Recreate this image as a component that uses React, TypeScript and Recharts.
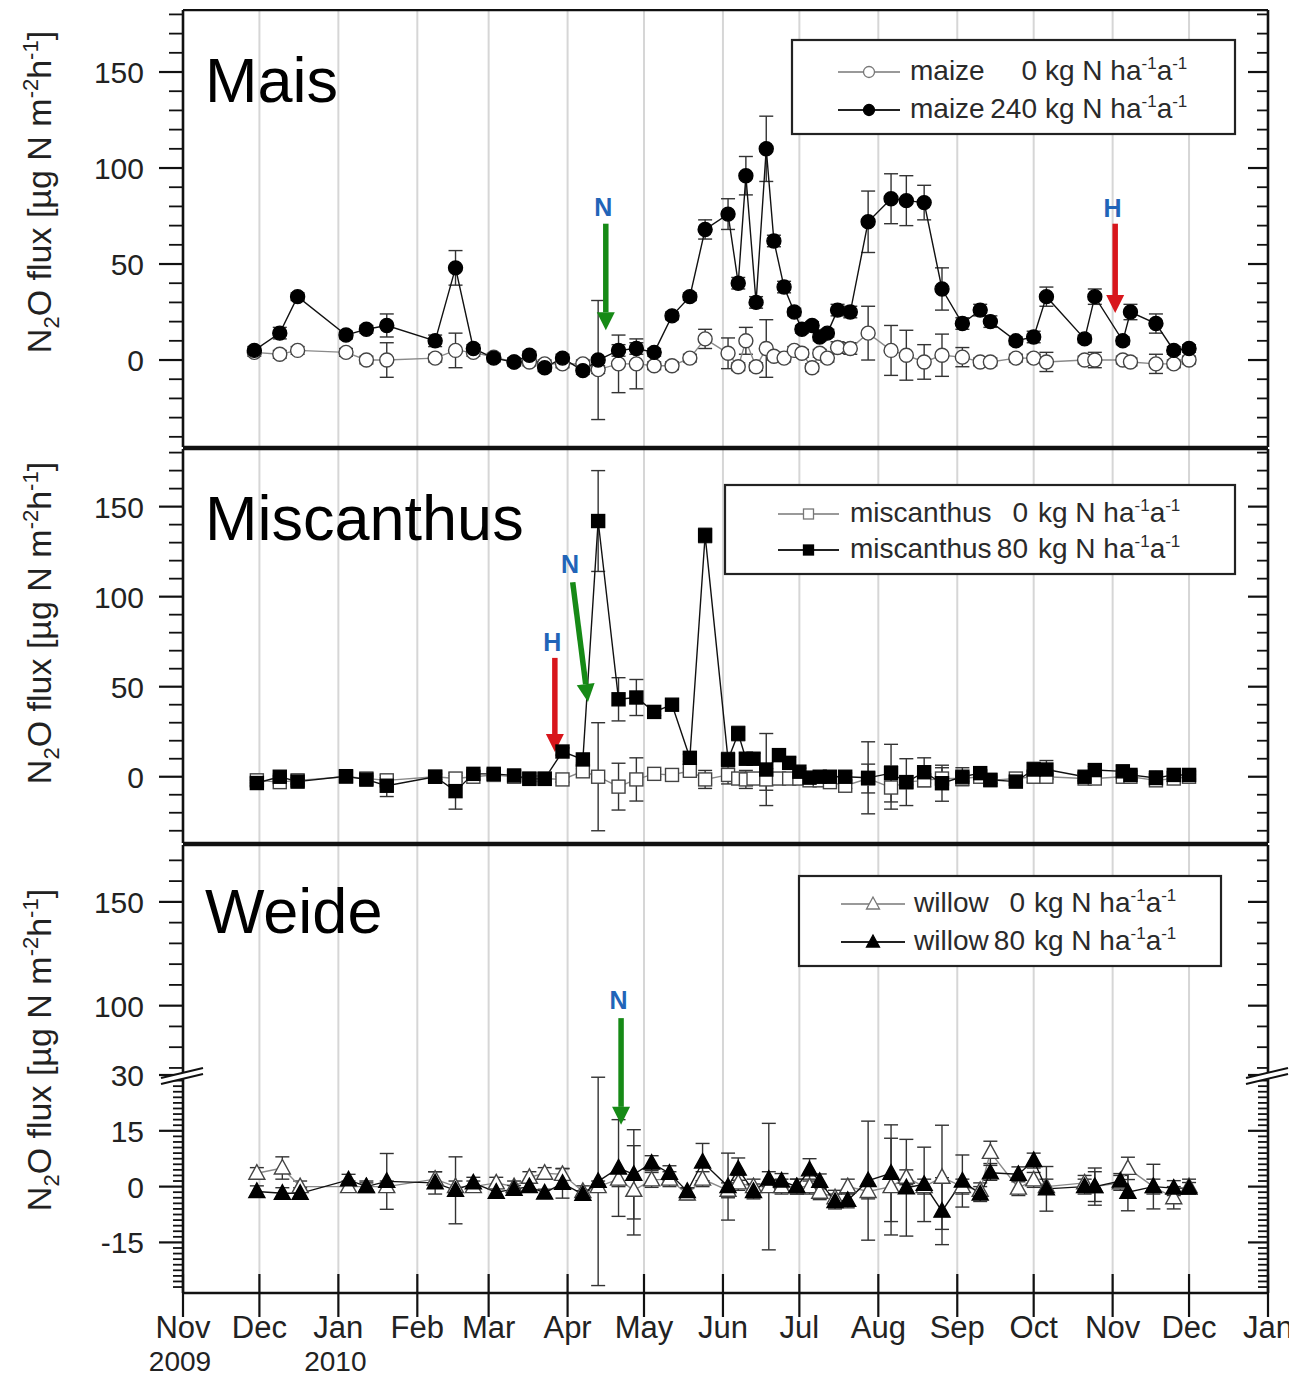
import React from "react";
import {
  ComposedChart,
  Line,
  ErrorBar,
  XAxis,
  YAxis,
  CartesianGrid,
  ReferenceLine,
  ReferenceDot,
} from "recharts";

const FONT = "'Liberation Sans', Arial, Helvetica, sans-serif";
const W = 1289;

// ---- time axis ----
const monthTicks = [
  "2009-11-01", "2009-12-01", "2010-01-01", "2010-02-01", "2010-03-01",
  "2010-04-01", "2010-05-01", "2010-06-01", "2010-07-01", "2010-08-01",
  "2010-09-01", "2010-10-01", "2010-11-01", "2010-12-01", "2011-01-01",
];
const monthLabels = ["Nov", "Dec", "Jan", "Feb", "Mar", "Apr", "May", "Jun", "Jul", "Aug", "Sep", "Oct", "Nov", "Dec", "Jan"];
const yearLabels = ["2009", "", "2010", "", "", "", "", "", "", "", "", "", "", "", ""];

// ---- maize ----
const maizeDates = [
  "2009-11-29", "2009-12-09", "2009-12-16", "2010-01-04", "2010-01-12", "2010-01-20", "2010-02-08", "2010-02-16", "2010-02-23", "2010-03-03",
  "2010-03-11", "2010-03-17", "2010-03-23", "2010-03-30", "2010-04-07", "2010-04-13", "2010-04-21", "2010-04-28", "2010-05-05", "2010-05-12",
  "2010-05-19", "2010-05-25", "2010-06-03", "2010-06-07", "2010-06-10", "2010-06-14", "2010-06-18", "2010-06-21", "2010-06-25", "2010-06-29",
  "2010-07-02", "2010-07-06", "2010-07-09", "2010-07-12", "2010-07-16", "2010-07-21", "2010-07-28", "2010-08-06", "2010-08-12", "2010-08-19",
  "2010-08-26", "2010-09-03", "2010-09-10", "2010-09-14", "2010-09-24", "2010-10-01", "2010-10-06", "2010-10-21", "2010-10-25", "2010-11-05",
  "2010-11-08", "2010-11-18", "2010-11-25", "2010-12-01",
];
const maize0 = [
  4, 3, 5, 4, 0, 0, 1, 5, 4, 1.5,
  -1, -1, -2, -2, -2, -5, -2, -2, -3, -3,
  1, 11, 3.5, -3.5, 10, -3.5, 6, 2, 1, 5,
  3.5, -4, 3.5, 1, 6.5, 6, 14, 5, 2.5, -1,
  2.5, 1.5, -1, -1, 1, 1, -1, 0, 0, 0,
  -1, -2, -2, 0,
];
const maize0Err = [
  2, 2, 2, 2, 2, 9, 2, 9, 2, 2,
  2, 2, 2, 2, 2, 2, 15, 13, 2, 2,
  2, 5, 8, 2, 7, 2, 15, 2, 2, 2,
  2, 2, 2, 2, 3, 3, 14, 13, 13, 9,
  11, 5, 2, 2, 2, 2, 5, 2, 4, 2,
  2, 5, 2, 2,
];
const maize240 = [
  5, 14, 33, 13, 16, 18, 10, 48, 6, 1,
  -1, 2.5, -4, 1, -5.5, 0, 5, 6, 4, 23,
  33, 68, 76, 40, 96, 30, 110, 62, 38, 25,
  16, 18, 12, 14, 26, 25, 72, 84, 83, 82,
  37, 19, 26, 20, 10, 12, 33, 11, 33, 10,
  25, 19, 5, 6,
];
const maize240Err = [
  2, 3, 2, 2, 2, 6, 3, 9, 2, 2,
  2, 2, 2, 2, 2, 31, 3, 3, 2, 2,
  2, 5, 8, 3, 10, 3, 17, 3, 3, 2,
  2, 2, 2, 2, 3, 3, 16, 13, 13, 9,
  11, 3, 3, 3, 2, 3, 5, 2, 4, 2,
  4, 5, 2, 2,
];

// ---- miscanthus ----
const miscDates = [
  "2009-11-30", "2009-12-09", "2009-12-16", "2010-01-04", "2010-01-12", "2010-01-20", "2010-02-08", "2010-02-16", "2010-02-23", "2010-03-03",
  "2010-03-11", "2010-03-17", "2010-03-23", "2010-03-30", "2010-04-07", "2010-04-13", "2010-04-21", "2010-04-28", "2010-05-05", "2010-05-12",
  "2010-05-19", "2010-05-25", "2010-06-03", "2010-06-07", "2010-06-10", "2010-06-13", "2010-06-18", "2010-06-23", "2010-06-27", "2010-07-01",
  "2010-07-05", "2010-07-09", "2010-07-13", "2010-07-19", "2010-07-28", "2010-08-06", "2010-08-12", "2010-08-19", "2010-08-26", "2010-09-03",
  "2010-09-10", "2010-09-14", "2010-09-24", "2010-10-01", "2010-10-06", "2010-10-21", "2010-10-25", "2010-11-05", "2010-11-08", "2010-11-18",
  "2010-11-25", "2010-12-01",
];
const misc0 = [
  -2, -3, -2, 0, -1, -2, 0, -1, 0, 1,
  0, -1, -1, -1.5, 3, 0, -5.5, -1.5, 1.6, 1,
  3.3, -1.5, 1, -1, -1.5, -1, -1.5, -1, -1, -1,
  -2, -2, -3, -5, -1, -6, -3, -2, -1, -1,
  0, -2, -1, 0, 0, -1, -1, 0, 0, -2,
  -1, 0,
];
const misc0Err = [
  1.5, 1.5, 1.5, 1.5, 1.5, 1.5, 1.5, 1.5, 1.5, 1.5,
  1.5, 1.5, 1.5, 1.5, 1.5, 30, 13, 12, 1.5, 1.5,
  1.5, 5, 5, 1.5, 5, 1.5, 6, 1.5, 1.5, 1.5,
  1.5, 1.5, 1.5, 1.5, 8, 12, 1.5, 1.5, 6, 1.5,
  1.5, 1.5, 1.5, 3, 1.5, 1.5, 1.5, 1.5, 1.5, 1.5,
  1.5, 1.5,
];
const misc80 = [
  -3.5, 0, -2.7, 0.3, -1.6, -5, 0, -8, 1.6, 1.6,
  0.7, -1.2, -1.2, 14, 9.6, 142, 43, 44, 36, 40,
  10.5, 134, 9.5, 24, 10, 10, 4, 12, 7.7, 2.8,
  -0.5, 0, 0, 0, -0.6, 2, -3, 2.5, -3.6, 0,
  2, -1.7, -2.7, 4, 4, 0, 3.7, 3, 1, -0.7,
  1, 1,
];
const misc80Err = [
  1.5, 1.5, 1.5, 1.5, 1.5, 6, 1.5, 10, 1.5, 1.5,
  1.5, 1.5, 1.5, 2, 2, 28, 12, 10, 2, 2,
  2, 4, 4, 4, 3, 3, 20, 3, 3, 2,
  2, 2, 2, 2, 20, 16, 13, 8, 10, 5,
  2, 2, 2, 4, 5, 2, 2, 3, 2, 4,
  2, 2,
];

// ---- willow ----
const willowDates = [
  "2009-11-30", "2009-12-10", "2009-12-17", "2010-01-05", "2010-01-12", "2010-01-20", "2010-02-08", "2010-02-16", "2010-02-23", "2010-03-04",
  "2010-03-11", "2010-03-17", "2010-03-23", "2010-03-30", "2010-04-07", "2010-04-13", "2010-04-21", "2010-04-27", "2010-05-04", "2010-05-11",
  "2010-05-18", "2010-05-24", "2010-06-03", "2010-06-07", "2010-06-13", "2010-06-19", "2010-06-24", "2010-06-30", "2010-07-05", "2010-07-09",
  "2010-07-15", "2010-07-20", "2010-07-28", "2010-08-06", "2010-08-12", "2010-08-19", "2010-08-26", "2010-09-03", "2010-09-10", "2010-09-14",
  "2010-09-25", "2010-10-01", "2010-10-06", "2010-10-21", "2010-10-25", "2010-11-04", "2010-11-07", "2010-11-17", "2010-11-25", "2010-12-01",
];
const willow0 = [
  3.6, 5, 0, 0, 0, 0, 2, 0, 0, 1,
  0, 2.5, 3.6, 3.3, -1.3, 0, 2, -1, 1.8, 2,
  -2, 2, -1, 1, 0, 0, 0, 0, 0, -1.5,
  -3, 0, -1.3, 0, 2.5, 0, 2.5, 0, -1, 9.2,
  -0.4, 1.8, 0, 1, 0, 1, 4.9, 0, -3, 0,
];
const willow0Err = [
  1.5, 3, 1.5, 1.5, 1.5, 1.5, 2, 1.5, 1.5, 1.5,
  1.5, 1.5, 1.5, 1.5, 1.5, 1.5, 2, 12, 2, 2,
  1.5, 2, 2, 2, 2, 17, 2, 2, 2, 2,
  2, 2, 2, 13, 2, 2, 14, 2, 2, 3,
  2, 2, 2, 2, 4, 2, 3, 2, 3, 2,
];
const willow80 = [
  -1.3, -1.8, -1.8, 1.8, 0, 1.4, 1, -1, 1, -1.5,
  -0.7, 0, -1.7, 0.9, -2.1, 1.4, 5, 3.3, 6.3, 3.6,
  -1.3, 6.6, 0, 4.7, -1.3, 2, 1.5, 0, 4.5, 1.4,
  -4, -3.7, 1.6, 3.6, -0.3, 0.6, -6.6, 1.5, -2, 3.7,
  3.3, 7, -0.6, 0, 0, 1.5, -1.5, 0, -0.4, -0.4,
];
const willow80Err = [
  1.5, 1.5, 1.5, 1.5, 1, 7.5, 3, 9, 1.5, 1.5,
  1, 1, 1, 4, 1, 28, 13, 12, 2, 2,
  1, 5, 9, 3, 2, 2, 2, 2, 3, 2,
  2, 2, 16, 13, 13, 10, 9, 7, 2, 2,
  2, 2, 6, 2, 5, 2, 5, 6, 2, 1.5,
];

// ---- legend text ----
const maizeLegend = { names: ["maize", "maize"], doses: ["0", "240"] };
const miscLegend = { names: ["miscanthus", "miscanthus"], doses: ["0", "80"] };
const willowLegend = { names: ["willow", "willow"], doses: ["0", "80"] };

// ---- management events (N = fertilisation, H = harvest), data units ----
const maizeArrows = [
  { from: ["2010-04-16", 71], to: ["2010-04-16", 15.5], color: "#168a16" },
  { from: ["2010-11-02", 71], to: ["2010-11-02", 24.5], color: "#d8161c" },
];
const maizeLetters = [
  { at: ["2010-04-15", 79.5], text: "N" },
  { at: ["2010-11-01", 79], text: "H" },
];
const miscArrows = [
  { from: ["2010-03-27", 66], to: ["2010-03-27", 13.7], color: "#d8161c" },
  { from: ["2010-04-03", 108], to: ["2010-04-09", 41.5], color: "#168a16" },
];
const miscLetters = [
  { at: ["2010-03-26", 75], text: "H" },
  { at: ["2010-04-02", 118], text: "N" },
];
const willowArrowUpper = [{ from: ["2010-04-22", 94], to: ["2010-04-22", 66.6], color: "#168a16", noHead: true }];
const willowArrowLower = [{ from: ["2010-04-22", 30], to: ["2010-04-22", 16.6], color: "#168a16" }];
const willowLetters = [{ at: ["2010-04-21", 102.7], text: "N" }];

// ---- helpers ----
const day = (s: string) =>
  (Date.UTC(+s.slice(0, 4), +s.slice(5, 7) - 1, +s.slice(8, 10)) - Date.UTC(2009, 10, 1)) / 86400000;
const xTicks = monthTicks.map(day);
const xDomain = [0, day("2011-01-01")];

const range = (a: number, b: number, s: number) => {
  const out: number[] = [];
  for (let v = a; v <= b + 1e-9; v += s) out.push(Math.round(v * 10) / 10);
  return out;
};

type Pt = { t: number; v: number; e: number };
const toRows = (dates: string[], vals: number[], errs: number[]): Pt[] =>
  dates.map((d, i) => ({ t: day(d), v: vals[i], e: errs[i] }));

type Shape = "circle" | "square" | "triangle";

function makeDot(shape: Shape, filled: boolean) {
  return (p: any) => {
    const { cx, cy, index } = p;
    const k = `d${index}`;
    if (cx == null || cy == null) return <g key={k} />;
    const fill = filled ? "#000" : "#fff";
    const stroke = filled ? "#000" : "#444";
    if (shape === "circle")
      return <circle key={k} cx={cx} cy={cy} r={7} fill={fill} stroke={stroke} strokeWidth={1.4} />;
    if (shape === "square")
      return <rect key={k} x={cx - 6.5} y={cy - 6.5} width={13} height={13} fill={fill} stroke={stroke} strokeWidth={1.4} />;
    return (
      <polygon
        key={k}
        points={`${cx},${cy - 8.5} ${cx - 8},${cy + 6} ${cx + 8},${cy + 6}`}
        fill={fill}
        stroke={stroke}
        strokeWidth={1.4}
      />
    );
  };
}

function BreakMark({ x, y }: { x: number; y: number }) {
  const a = x - 22;
  const b = x + 20;
  return (
    <g>
      <polygon points={`${a},${y + 3} ${b},${y - 7} ${b},${y - 1} ${a},${y + 9}`} fill="#fff" />
      <line x1={a} y1={y + 3} x2={b} y2={y - 7} stroke="#111" strokeWidth={2} />
      <line x1={a} y1={y + 9} x2={b} y2={y - 1} stroke="#111" strokeWidth={2} />
    </g>
  );
}

function leftTick(major: number[], minorLen: number, brk?: number) {
  return (p: any) => {
    const { x, y, payload } = p;
    const v = payload.value;
    const isMajor = major.includes(v);
    const len = isMajor ? 24 : minorLen;
    return (
      <g>
        <line x1={x - len} x2={x} y1={y} y2={y} stroke="#111" strokeWidth={isMajor ? 2.2 : 1.8} />
        {isMajor && (
          <text x={x - 24 - 15} y={y + 11} textAnchor="end" fontSize={30} fontFamily={FONT} fill="#222">
            {v}
          </text>
        )}
        {v === brk && <BreakMark x={x} y={y} />}
      </g>
    );
  };
}

function rightTick(major: number[], minorLen: number, brk?: number) {
  return (p: any) => {
    const { x, y, payload } = p;
    const v = payload.value;
    const isMajor = major.includes(v);
    const len = isMajor ? 20 : minorLen;
    return (
      <g>
        <line x1={x - len} x2={x} y1={y} y2={y} stroke="#111" strokeWidth={isMajor ? 2.2 : 1.8} />
        {v === brk && <BreakMark x={x} y={y} />}
      </g>
    );
  };
}

const topTick = (p: any) => (
  <line x1={p.x} x2={p.x} y1={p.y} y2={p.y + 22} stroke="#111" strokeWidth={2.2} />
);
const noTick = () => <g />;
const bottomTick = (p: any) => {
  const i = xTicks.indexOf(p.payload.value);
  return (
    <g>
      <line x1={p.x} x2={p.x} y1={p.y - 19} y2={p.y + 24} stroke="#111" strokeWidth={2.2} />
      <text x={p.x} y={p.y + 45} textAnchor="middle" fontSize={31} fontFamily={FONT} fill="#222">
        {monthLabels[i]}
      </text>
      {yearLabels[i] && (
        <text x={p.x - 3} y={p.y + 78} textAnchor="middle" fontSize={28} fontFamily={FONT} fill="#222">
          {yearLabels[i]}
        </text>
      )}
    </g>
  );
};

function arrowShape(color: string, head: boolean) {
  return (p: any) => {
    const { x1, y1, x2, y2 } = p;
    if (![x1, y1, x2, y2].every((n) => Number.isFinite(n))) return <g />;
    const ang = Math.atan2(y2 - y1, x2 - x1);
    const hl = head ? 18 : 0;
    const hw = 9;
    const bx = x2 - hl * Math.cos(ang);
    const by = y2 - hl * Math.sin(ang);
    const nx = -Math.sin(ang) * hw;
    const ny = Math.cos(ang) * hw;
    return (
      <g>
        <line x1={x1} y1={y1} x2={bx} y2={by} stroke={color} strokeWidth={5.5} />
        {head && <polygon points={`${x2},${y2} ${bx + nx},${by + ny} ${bx - nx},${by - ny}`} fill={color} />}
      </g>
    );
  };
}

const letterShape = (text: string) => (p: any) => (
  <text x={p.cx} y={p.cy + 9} textAnchor="middle" fontSize={25} fontWeight="bold" fontFamily={FONT} fill="#2164b8">
    {text}
  </text>
);

type SeriesDef = { rows: Pt[]; shape: Shape; filled: boolean };
type ArrowDef = { from: (string | number)[]; to: (string | number)[]; color: string; noHead?: boolean };
type LetterDef = { at: (string | number)[]; text: string };

type PanelProps = {
  plotTop: number;
  plotH: number;
  domain: number[];
  ticks: number[];
  major: number[];
  minorLen?: number;
  brk?: number;
  series: SeriesDef[];
  arrows: ArrowDef[];
  letters: LetterDef[];
  topAxis: boolean;
  bottomLine: boolean;
  bottomLabels: boolean;
  marginTop?: number;
};

const frame = { stroke: "#111", strokeWidth: 2.6 };

function Panel(props: PanelProps) {
  const mt = props.topAxis ? 0 : props.marginTop ?? 0;
  const topH = props.topAxis ? 1 : 0;
  const botH = props.bottomLabels ? 85 : 1;
  const h = mt + topH + props.plotH + botH;
  const minorL = props.minorLen ?? 14;
  return (
    <div style={{ position: "absolute", left: 0, top: props.plotTop - mt - topH }}>
      <ComposedChart width={W} height={h} margin={{ top: mt, right: 20, bottom: 0, left: 0 }}>
        <CartesianGrid horizontal={false} stroke="#d6d6d6" strokeWidth={2} xAxisId="b" yAxisId="l" />
        {props.topAxis && (
          <XAxis
            xAxisId="t"
            orientation="top"
            type="number"
            domain={xDomain}
            ticks={xTicks}
            height={1}
            allowDataOverflow
            axisLine={frame}
            tickLine={false}
            tickSize={0}
            tickMargin={0}
            tick={topTick}
            interval={0}
          />
        )}
        <XAxis
          xAxisId="b"
          orientation="bottom"
          type="number"
          dataKey="t"
          domain={xDomain}
          ticks={xTicks}
          height={botH}
          allowDataOverflow
          axisLine={props.bottomLine ? frame : false}
          tickLine={false}
          tickSize={0}
          tickMargin={0}
          tick={props.bottomLabels ? bottomTick : noTick}
          interval={0}
        />
        <YAxis
          yAxisId="l"
          orientation="left"
          width={183}
          type="number"
          domain={props.domain}
          ticks={props.ticks}
          allowDataOverflow
          axisLine={frame}
          tickLine={false}
          tickSize={0}
          tickMargin={0}
          tick={leftTick(props.major, minorL, props.brk)}
          interval={0}
        />
        <YAxis
          yAxisId="r"
          orientation="right"
          width={1}
          type="number"
          domain={props.domain}
          ticks={props.ticks}
          allowDataOverflow
          axisLine={frame}
          tickLine={false}
          tickSize={0}
          tickMargin={0}
          tick={rightTick(props.major, Math.min(11, minorL), props.brk)}
          interval={0}
        />
        {props.series.map((s, i) => (
          <Line
            key={i}
            data={s.rows}
            dataKey="v"
            xAxisId="b"
            yAxisId="l"
            type="linear"
            stroke={s.filled ? "#111" : "#8a8a8a"}
            strokeWidth={1.4}
            dot={makeDot(s.shape, s.filled)}
            activeDot={false}
            isAnimationActive={false}
          >
            <ErrorBar dataKey="e" direction="y" width={7} stroke="#333" strokeWidth={1.4} />
          </Line>
        ))}
        {props.arrows.map((a, i) => (
          <ReferenceLine
            key={`a${i}`}
            xAxisId="b"
            yAxisId="l"
            ifOverflow="visible"
            segment={[
              { x: day(a.from[0] as string), y: a.from[1] as number },
              { x: day(a.to[0] as string), y: a.to[1] as number },
            ]}
            shape={arrowShape(a.color, !a.noHead)}
          />
        ))}
        {props.letters.map((l, i) => (
          <ReferenceDot
            key={`l${i}`}
            xAxisId="b"
            yAxisId="l"
            x={day(l.at[0] as string)}
            y={l.at[1] as number}
            r={1}
            ifOverflow="visible"
            shape={letterShape(l.text)}
          />
        ))}
      </ComposedChart>
    </div>
  );
}

function LegendIcon({ x1, x2, y, shape, filled }: { x1: number; x2: number; y: number; shape: Shape; filled: boolean }) {
  const c = (x1 + x2) / 2;
  const col = filled ? "#222" : "#999";
  const fill = filled ? "#000" : "#fff";
  const st = filled ? "#000" : "#777";
  return (
    <g>
      <line x1={x1} x2={x2} y1={y} y2={y} stroke={col} strokeWidth={2} />
      {shape === "circle" && <circle cx={c} cy={y} r={5.5} fill={fill} stroke={st} strokeWidth={1.3} />}
      {shape === "square" && <rect x={c - 5} y={y - 5} width={10} height={10} fill={fill} stroke={st} strokeWidth={1.3} />}
      {shape === "triangle" && (
        <polygon points={`${c},${y - 7} ${c - 6.5},${y + 5} ${c + 6.5},${y + 5}`} fill={fill} stroke={st} strokeWidth={1.3} />
      )}
    </g>
  );
}

function LegendBox(p: {
  box: number[];
  baselines: number[];
  icon: number[];
  nameX: number;
  numEnd: number;
  unitX: number;
  shape: Shape;
  names: string[];
  doses: string[];
}) {
  const [bx, by, bw, bh] = p.box;
  return (
    <g>
      <rect x={bx} y={by} width={bw} height={bh} fill="#fff" stroke="#222" strokeWidth={2.2} />
      {p.baselines.map((b, i) => (
        <g key={i} fontFamily={FONT} fontSize={28} fill="#2a2a2a">
          <LegendIcon x1={p.icon[0]} x2={p.icon[1]} y={b - 8} shape={p.shape} filled={i === 1} />
          <text x={p.nameX} y={b}>{p.names[i]}</text>
          <text x={p.numEnd} y={b} textAnchor="end">{p.doses[i]}</text>
          <text x={p.unitX} y={b}>
            kg N ha<tspan dy={-11} fontSize={17}>-1</tspan>
            <tspan dy={11}>a</tspan>
            <tspan dy={-11} fontSize={17}>-1</tspan>
          </text>
        </g>
      ))}
    </g>
  );
}

function YTitle({ x, y }: { x: number; y: number }) {
  return (
    <text transform={`translate(${x},${y}) rotate(-90)`} textAnchor="middle" fontSize={34} fontFamily={FONT} fill="#222">
      N<tspan dy={8} fontSize={22}>2</tspan>
      <tspan dy={-8}>O flux [µg N m</tspan>
      <tspan dy={-13} fontSize={22}>-2</tspan>
      <tspan dy={13}>h</tspan>
      <tspan dy={-13} fontSize={22}>-1</tspan>
      <tspan dy={13}>]</tspan>
    </text>
  );
}

export default function App() {
  const maizeSeries: SeriesDef[] = [
    { rows: toRows(maizeDates, maize0, maize0Err), shape: "circle", filled: false },
    { rows: toRows(maizeDates, maize240, maize240Err), shape: "circle", filled: true },
  ];
  const miscSeries: SeriesDef[] = [
    { rows: toRows(miscDates, misc0, misc0Err), shape: "square", filled: false },
    { rows: toRows(miscDates, misc80, misc80Err), shape: "square", filled: true },
  ];
  const willowSeries: SeriesDef[] = [
    { rows: toRows(willowDates, willow0, willow0Err), shape: "triangle", filled: false },
    { rows: toRows(willowDates, willow80, willow80Err), shape: "triangle", filled: true },
  ];

  return (
    <div style={{ position: "absolute", left: 0, top: 0, width: W, height: 1378, background: "#fff", overflow: "hidden" }}>
      <Panel
        plotTop={10}
        plotH={437}
        domain={[-45.3, 182.3]}
        ticks={range(-40, 180, 10)}
        major={[0, 50, 100, 150]}
        series={maizeSeries}
        arrows={maizeArrows}
        letters={maizeLetters}
        topAxis
        bottomLine
        bottomLabels={false}
      />
      <Panel
        plotTop={449}
        plotH={394}
        domain={[-36.8, 182]}
        ticks={range(-30, 180, 10)}
        major={[0, 50, 100, 150]}
        series={miscSeries}
        arrows={miscArrows}
        letters={miscLetters}
        topAxis
        bottomLine
        bottomLabels={false}
      />
      <Panel
        plotTop={845}
        plotH={230}
        domain={[66.6, 177.4]}
        ticks={range(70, 170, 10)}
        major={[100, 150]}
        series={[]}
        arrows={willowArrowUpper}
        letters={willowLetters}
        topAxis
        bottomLine={false}
        bottomLabels={false}
      />
      <Panel
        plotTop={1075}
        plotH={218}
        domain={[-28.6, 30]}
        ticks={range(-27, 30, 1.5)}
        major={[-15, 0, 15, 30]}
        minorLen={10}
        brk={30}
        series={willowSeries}
        arrows={willowArrowLower}
        letters={[]}
        topAxis={false}
        marginTop={22}
        bottomLine
        bottomLabels
      />
      <svg width={W} height={1378} style={{ position: "absolute", left: 0, top: 0, pointerEvents: "none" }}>
        <text x={205} y={102} fontSize={63} fontFamily={FONT} fill="#000">Mais</text>
        <text x={205} y={540} fontSize={63} fontFamily={FONT} fill="#000">Miscanthus</text>
        <text x={205} y={933} fontSize={63} fontFamily={FONT} fill="#000">Weide</text>
        <YTitle x={51} y={192} />
        <YTitle x={51} y={623} />
        <YTitle x={51} y={1050} />
        <LegendBox
          box={[792, 40, 443, 94]}
          baselines={[80, 118]}
          icon={[838, 900]}
          nameX={910}
          numEnd={1037}
          unitX={1045}
          shape="circle"
          names={maizeLegend.names}
          doses={maizeLegend.doses}
        />
        <LegendBox
          box={[725, 485, 510, 89]}
          baselines={[522, 558]}
          icon={[778, 839]}
          nameX={850}
          numEnd={1028}
          unitX={1038}
          shape="square"
          names={miscLegend.names}
          doses={miscLegend.doses}
        />
        <LegendBox
          box={[799, 876, 422, 90]}
          baselines={[912, 950]}
          icon={[841, 905]}
          nameX={914}
          numEnd={1025}
          unitX={1034}
          shape="triangle"
          names={willowLegend.names}
          doses={willowLegend.doses}
        />
      </svg>
    </div>
  );
}
